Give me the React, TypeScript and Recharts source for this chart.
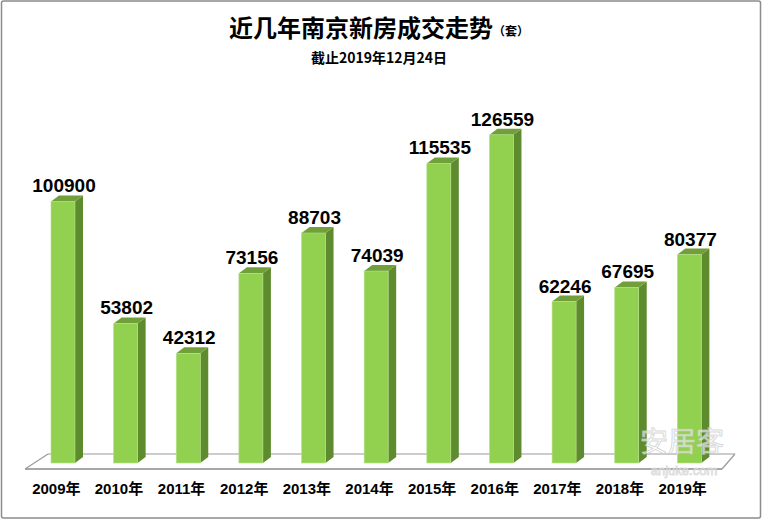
import React from 'react';
import { BarChart, Bar, XAxis, YAxis, LabelList } from 'recharts';

const years = ['2009年', '2010年', '2011年', '2012年', '2013年', '2014年', '2015年', '2016年', '2017年', '2018年', '2019年'];
const sales = [100900, 53802, 42312, 73156, 88703, 74039, 115535, 126559, 62246, 67695, 80377];
const titleText = '近几年南京新房成交走势';
const unitText = '（套）';
const subtitleText = '截止2019年12月24日';

const data = years.map((year, i) => ({ year, sales: sales[i] }));

const W = 763;
const H = 521;
const DX = 8;
const DY = 6;
const LATIN = '"Liberation Sans", Arial, "Noto Sans CJK SC", sans-serif';
const CJK = '"Noto Sans CJK SC", "Liberation Sans", sans-serif';

const Bar3D = (props: any) => {
  const { x, y, width, height } = props;
  if (width == null || height == null) return null;
  const r = x + width;
  const b = y + height;
  return (
    <g>
      <polygon
        points={`${r},${y} ${r + DX},${y - DY} ${r + DX},${b - DY} ${r},${b}`}
        fill="#5f8b2f"
      />
      <polygon
        points={`${x},${y} ${x + DX},${y - DY} ${r + DX},${y - DY} ${r},${y}`}
        fill="#71a03a"
      />
      <rect x={x} y={y} width={width} height={height} fill="#92d050" stroke="#b4df88" strokeWidth={0.6} />
    </g>
  );
};

const ValueLabel = (props: any) => {
  const { x, y, width, value } = props;
  return (
    <text
      x={x + width / 2 + 1}
      y={y - DY - 3}
      textAnchor="middle"
      fontFamily={LATIN}
      fontWeight="bold"
      fontSize={19}
      fill="#000"
    >
      {value}
    </text>
  );
};

const YearTick = (props: any) => {
  const { x, y, payload } = props;
  return (
    <text
      x={x - 7}
      y={y + 23}
      textAnchor="middle"
      fontFamily={LATIN}
      fontWeight="bold"
      fontSize={15}
      fill="#000"
    >
      {payload.value}
    </text>
  );
};

export default function App() {
  return (
    <div style={{ position: 'absolute', left: 0, top: 0, width: W, height: H, background: '#fff' }}>
      <svg width={W} height={H} style={{ position: 'absolute', left: 0, top: 0 }}>
        <polygon points="25,469 722,469 735,454 48,454" fill="#fff" stroke="none" />
        <line x1={48} y1={454} x2={735} y2={454} stroke="#9a9a9a" strokeWidth={1.2} />
        <line x1={25} y1={469} x2={722} y2={469} stroke="#8a8a8a" strokeWidth={1.5} />
        <line x1={25} y1={469} x2={48} y2={454} stroke="#9a9a9a" strokeWidth={1.2} />
        <line x1={722} y1={469} x2={735} y2={454} stroke="#9a9a9a" strokeWidth={1.2} />
      </svg>
      <div style={{ position: 'absolute', left: 0, top: 0 }}>
        <BarChart width={W} height={H} data={data} margin={{ top: 100, right: 42, bottom: 28, left: 32 }}>
          <XAxis dataKey="year" axisLine={false} tickLine={false} height={30} tick={<YearTick />} interval={0} />
          <YAxis hide domain={[0, 140000]} />
          <Bar dataKey="sales" barSize={24} shape={<Bar3D />} isAnimationActive={false}>
            <LabelList dataKey="sales" content={<ValueLabel />} />
          </Bar>
        </BarChart>
      </div>
      <svg width={W} height={H} style={{ position: 'absolute', left: 0, top: 0, pointerEvents: 'none' }}>
        <text x={379} y={37} textAnchor="middle" fontFamily={CJK} fontWeight="bold" fontSize={24} fill="#000">
          {titleText}
          <tspan fontSize={12} dy={-1}>{unitText}</tspan>
        </text>
        <text x={379} y={63} textAnchor="middle" fontFamily={CJK} fontWeight="bold" fontSize={14} fill="#000">
          {subtitleText}
        </text>
        <text x={682} y={452} textAnchor="middle" fontFamily={CJK} fontSize={28} fill="#ffffff" fillOpacity={0.6} stroke="#c8c8c8" strokeOpacity={0.7} strokeWidth={1}>
          安居客
        </text>
        <text x={684} y={475} textAnchor="middle" fontFamily={LATIN} fontSize={13} fill="#ffffff" fillOpacity={0.6} stroke="#d0d0d0" strokeOpacity={0.7} strokeWidth={1}>
          anjuke.com
        </text>
        <rect x={1.5} y={1} width={759} height={517} rx={2} fill="none" stroke="#8c8c8c" strokeWidth={1.5} />
      </svg>
    </div>
  );
}
